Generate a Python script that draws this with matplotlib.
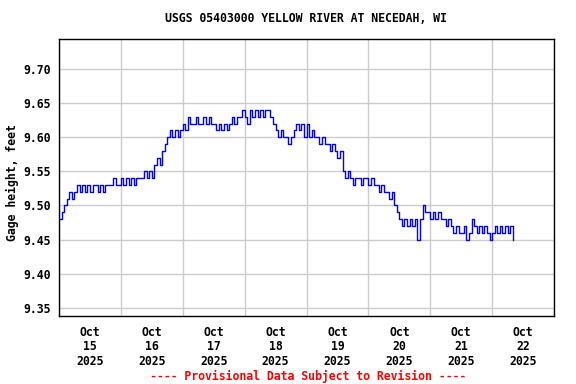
import matplotlib
matplotlib.use("Agg")
import matplotlib.pyplot as plt
import matplotlib.dates as mdates
import numpy as np
import pandas as pd

# hourly gage height (feet), one list per day, starting Oct 15 2025 00:00
oct15 = [9.48, 9.49, 9.50, 9.51, 9.52, 9.51, 9.52, 9.53, 9.52, 9.53, 9.52, 9.53,
         9.52, 9.53, 9.53, 9.52, 9.53, 9.52, 9.53, 9.53, 9.53, 9.54, 9.53, 9.53]
oct16 = [9.54, 9.53, 9.54, 9.53, 9.54, 9.53, 9.54, 9.54, 9.54, 9.55, 9.54, 9.55,
         9.54, 9.56, 9.57, 9.56, 9.58, 9.59, 9.60, 9.61, 9.60, 9.61, 9.60, 9.61]
oct17 = [9.62, 9.61, 9.63, 9.62, 9.62, 9.63, 9.62, 9.62, 9.63, 9.62, 9.63, 9.62,
         9.62, 9.61, 9.62, 9.61, 9.62, 9.61, 9.62, 9.63, 9.62, 9.63, 9.63, 9.64]
oct18 = [9.63, 9.62, 9.64, 9.63, 9.64, 9.63, 9.64, 9.63, 9.64, 9.64, 9.63, 9.62,
         9.61, 9.60, 9.61, 9.60, 9.60, 9.59, 9.60, 9.61, 9.62, 9.61, 9.62, 9.60]
oct19 = [9.62, 9.60, 9.61, 9.60, 9.60, 9.59, 9.60, 9.59, 9.59, 9.58, 9.59, 9.58,
         9.57, 9.58, 9.55, 9.54, 9.55, 9.54, 9.53, 9.54, 9.54, 9.53, 9.54, 9.54]
oct20 = [9.53, 9.54, 9.53, 9.53, 9.52, 9.53, 9.52, 9.52, 9.51, 9.52, 9.50, 9.49,
         9.48, 9.47, 9.48, 9.47, 9.48, 9.47, 9.48, 9.45, 9.48, 9.50, 9.49, 9.49]
oct21 = [9.48, 9.49, 9.48, 9.49, 9.48, 9.48, 9.47, 9.48, 9.47, 9.46, 9.47, 9.46,
         9.46, 9.47, 9.45, 9.46, 9.48, 9.47, 9.46, 9.47, 9.46, 9.47, 9.46, 9.45]
oct22 = [9.46, 9.47, 9.46, 9.47, 9.46, 9.47, 9.46, 9.47, 9.45]

heights = oct15 + oct16 + oct17 + oct18 + oct19 + oct20 + oct21 + oct22
times = pd.date_range("2025-10-15 00:00", periods=len(heights), freq="h")

yticks = [9.35, 9.40, 9.45, 9.50, 9.55, 9.60, 9.65, 9.70]

font = "DejaVu Sans Mono"
fs = 8.3

fig = plt.figure(figsize=(5.76, 3.84), dpi=100)
ax = fig.add_axes([59 / 576, 1 - 316 / 384, 495 / 576, 277 / 384])

ax.plot(times, heights, color="#0000ff", lw=1, drawstyle="steps-post")

ax.set_xlim(pd.Timestamp("2025-10-15 00:00"), pd.Timestamp("2025-10-23 00:00"))
ax.set_ylim(9.338, 9.744)

ax.set_yticks(yticks)
ax.set_yticklabels([f"{v:.2f}" for v in yticks])

ax.xaxis.set_major_locator(mdates.HourLocator(byhour=[12]))
ax.xaxis.set_major_formatter(mdates.DateFormatter("%b\n%d\n%Y"))
ax.xaxis.set_minor_locator(mdates.DayLocator())

ax.grid(False, axis="x", which="major")
ax.grid(True, axis="x", which="minor", color="#cccccc", lw=1)
ax.grid(True, axis="y", which="major", color="#cccccc", lw=1)
ax.set_axisbelow(True)

ax.tick_params(axis="both", which="both", length=0)
ax.tick_params(axis="y", pad=6)
ax.tick_params(axis="x", pad=7)
for lab in ax.get_xticklabels() + ax.get_yticklabels():
    lab.set_fontfamily(font)
    lab.set_fontweight("bold")
    lab.set_fontsize(fs)
for lab in ax.get_xticklabels():
    lab.set_linespacing(1.15)

for s in ax.spines.values():
    s.set_color("black")
    s.set_linewidth(1)

fig.text(306 / 576, 1 - 19 / 384, "USGS 05403000 YELLOW RIVER AT NECEDAH, WI",
         ha="center", va="center", fontfamily=font, fontweight="bold", fontsize=fs)
fig.text(12 / 576, 1 - 183 / 384, "Gage height, feet", rotation=90,
         ha="center", va="center", fontfamily=font, fontweight="bold", fontsize=fs)
fig.text(308 / 576, 1 - 376 / 384, "---- Provisional Data Subject to Revision ----",
         ha="center", va="center", fontfamily=font, fontweight="bold", fontsize=fs,
         color="red")

fig.savefig("out.png", dpi=100)
